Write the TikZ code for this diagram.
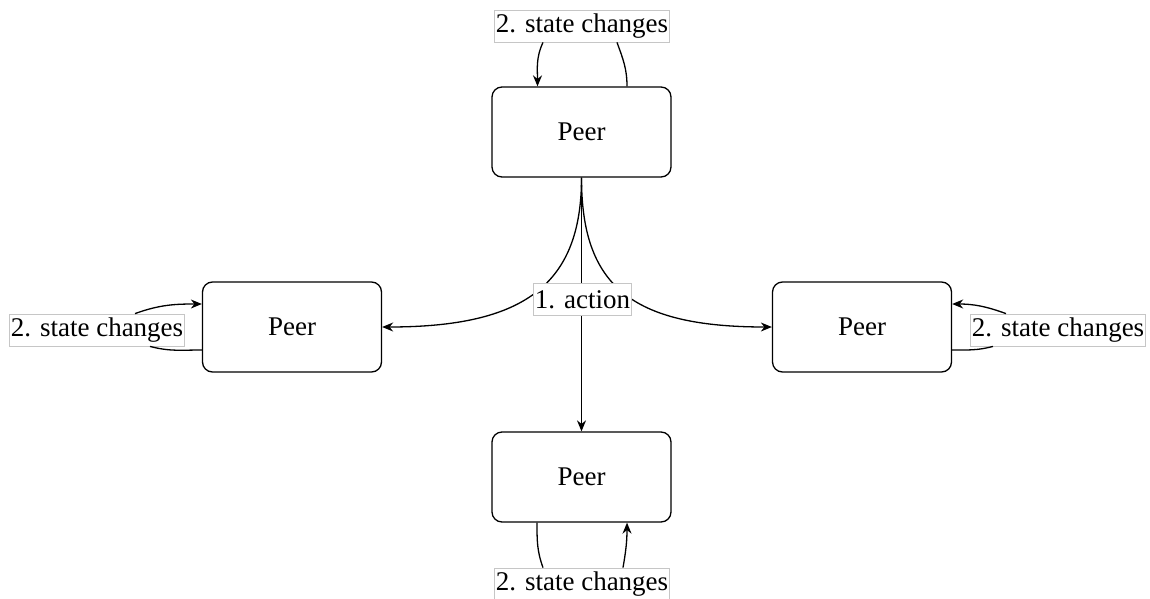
\documentclass[tikz,border=0pt]{standalone}
\usepackage{fontspec}
\newfontfamily\tms{LiberationSerif-Regular.ttf}
\usetikzlibrary{arrows.meta}
\begin{document}
\begin{tikzpicture}[x=0.5pt,y=-0.5pt,
  peer/.style={draw, rounded corners=5pt, minimum width=89.5pt, minimum height=45pt, line width=0.65pt, font=\tms\fontsize{13.5}{16}\selectfont},
  lbl/.style={draw=gray!45, line width=0.4pt, fill=white, inner xsep=0.5pt, inner ysep=0pt, minimum height=16pt, font=\tms\fontsize{13.5}{16}\selectfont},
  conn/.style={line width=0.65pt},
  arr/.style={conn, -{Stealth[length=5.5pt,width=4.5pt]}}
]
\useasboundingbox (0,0) rectangle (1150,599);
\node[peer] (top) at (581.5,132) {Peer};
\node[peer] (left) at (292,327) {Peer};
\node[peer] (right) at (862,327) {Peer};
\node[peer] (bottom) at (581.5,477) {Peer};

\node[lbl] (toplbl) at (582,26) {2. state changes};
\node[lbl] (leftlbl) at (97,330) {2. state changes};
\node[lbl] (rightlbl) at (1058,330) {2. state changes};
\node[lbl] (botlbl) at (582,584) {2. state changes};

% action
\draw[arr] (top.south) -- (bottom.north);
\draw[arr] (top.south) to[out=-90,in=0,out distance=53.5pt,in distance=71pt] (left.east);
\draw[arr] (top.south) to[out=-90,in=180,out distance=53.5pt,in distance=71pt] (right.west);
\node[lbl] (action) at (582.5,299.5) {1. action};

% top loop
\draw[arr] ([xshift=-19.5pt]toplbl.south) to[out=-115,in=90] ([xshift=-22pt]top.north);
\draw[conn] ([xshift=22.75pt]top.north) to[out=90,in=-70] ([xshift=17.5pt]toplbl.south);
% left loop
\draw[arr] ([xshift=19pt]leftlbl.north) to[out=20,in=180] ([yshift=11.5pt]left.west);
\draw[conn] ([yshift=-11.5pt]left.west) to[out=180,in=-15] ([xshift=26.5pt]leftlbl.south);
% right loop
\draw[arr] ([xshift=-26pt]rightlbl.north) to[out=160,in=0] ([yshift=11.5pt]right.east);
\draw[conn] ([yshift=-11.5pt]right.east) to[out=0,in=195] ([xshift=-32.5pt]rightlbl.south);
% bottom loop
\draw[conn] ([xshift=-22.25pt]bottom.south) to[out=-90,in=110] ([xshift=-19.5pt]botlbl.north);
\draw[arr] ([xshift=20.5pt]botlbl.north) to[out=80,in=-90] ([xshift=22.75pt]bottom.south);
\end{tikzpicture}
\end{document}
